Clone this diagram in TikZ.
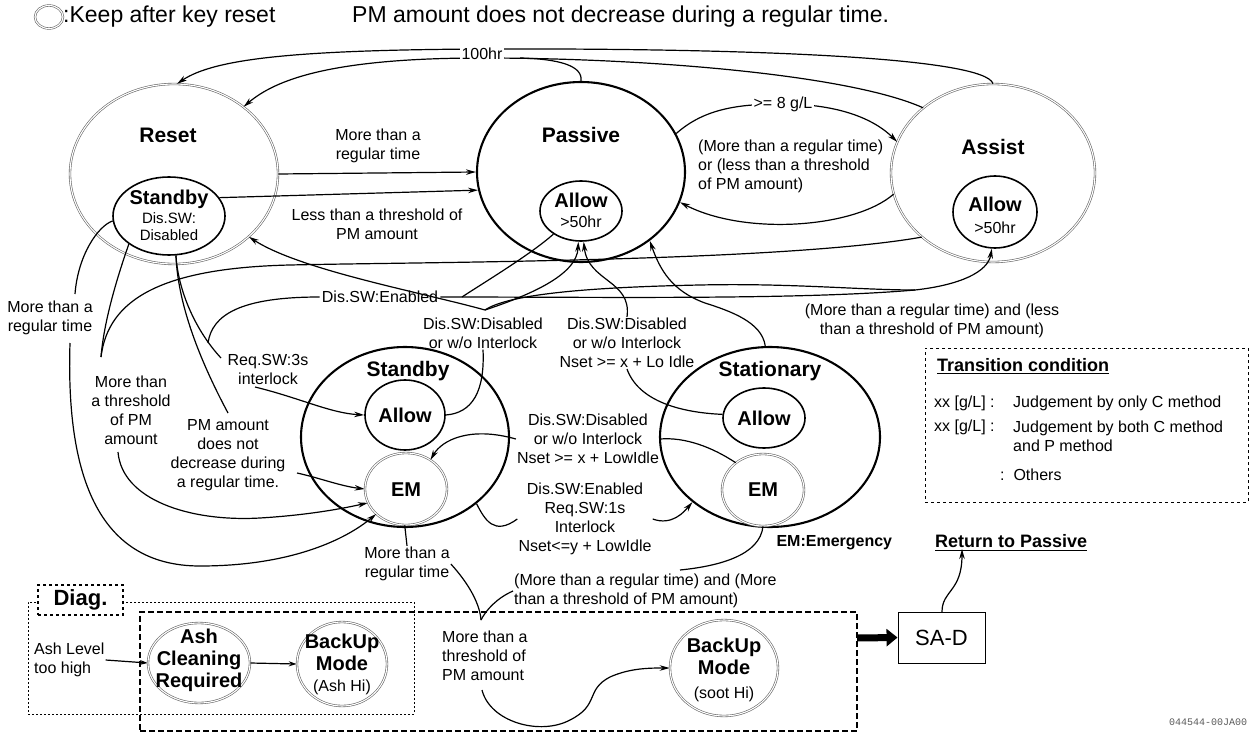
\documentclass[tikz,border=0pt]{standalone}
\usepackage{fontspec}
\setmainfont{Liberation Sans}
\newfontfamily\codefont{Liberation Mono}
\usetikzlibrary{arrows.meta,shapes.geometric,calc}

\begin{document}
\begin{tikzpicture}[x=1pt,y=-1pt,
  st/.style={ellipse, draw, line width=2.1pt, inner sep=0pt},
  sub/.style={ellipse, draw, line width=1.6pt, inner sep=0pt},
  dbl/.style={ellipse, draw=black!60, double=white, double distance=1.1pt, line width=0.6pt, inner sep=0pt},
  cn/.style={line width=1.2pt},
  arr/.style={cn, -{Stealth[length=10pt,width=5.5pt]}},
  lbl/.style={font=\fontsize{16}{19}\selectfont, align=center, inner sep=1pt},
  big/.style={font=\bfseries\fontsize{21}{24}\selectfont},
  mid/.style={font=\bfseries\fontsize{20}{22}\selectfont, align=center},
  sml/.style={font=\fontsize{16}{18}\selectfont},
  blank/.style={fill=white, inner sep=2pt}
]
\useasboundingbox (0,0) rectangle (1250,733);

% ---------- header ----------
\node[dbl, minimum width=28pt, minimum height=23pt] (keep) at (49,17) {};
\node[anchor=west, inner sep=0pt, font=\fontsize{23}{26}\selectfont] (keeptxt) at (63,17) {:Keep after key reset};
\node[anchor=west, inner sep=0pt, font=\fontsize{23}{26}\selectfont] (title) at (352,17) {PM amount does not decrease during a regular time.};

% ---------- states ----------
\node[dbl, minimum width=208pt, minimum height=180pt] (reset) at (174,174) {};
\node[big] at (168,135) {Reset};
\node[sub, minimum width=112pt, minimum height=78pt] (rstandby) at (169,216) {};
\node[font=\bfseries\fontsize{20}{22}\selectfont] at (169,199) {Standby};
\node[align=center, font=\fontsize{15}{17}\selectfont] at (169,227) {Dis.SW:\\Disabled};

\node[st, minimum width=208pt, minimum height=180pt] (passive) at (581,172) {};
\node[big] at (581,135) {Passive};
\node[sub, minimum width=82pt, minimum height=60pt] (pallow) at (581,211) {};
\node[mid] at (581,200) {Allow};
\node[sml] at (581,222) {>50hr};

\node[dbl, minimum width=204pt, minimum height=178pt] (assist) at (993,173) {};
\node[big] at (993,147) {Assist};
\node[sub, minimum width=84pt, minimum height=72pt] (aallow) at (995,212) {};
\node[mid] at (995,204) {Allow};
\node[sml] at (995,228) {>50hr};

\node[st, minimum width=208pt, minimum height=180pt] (standby) at (405,437) {};
\node[big] at (408,371) {Standby};
\node[sub, minimum width=80pt, minimum height=70pt] (sallow) at (405,415) {};
\node[mid] at (405,415) {Allow};
\node[dbl, minimum width=82pt, minimum height=72pt] (sem) at (406,489) {};
\node[mid] at (406,490) {EM};

\node[st, minimum width=220pt, minimum height=180pt] (station) at (770,437) {};
\node[big] at (770,371) {Stationary};
\node[sub, minimum width=82pt, minimum height=60pt] (tallow) at (764,418) {};
\node[mid] at (764,418) {Allow};
\node[dbl, minimum width=82pt, minimum height=72pt] (tem) at (763,490) {};
\node[mid] at (763,490) {EM};
\node[anchor=west, font=\bfseries\fontsize{16}{18}\selectfont] (emnote) at (773,543) {EM:Emergency};

% ---------- diagnosis area ----------
\node[draw, dash pattern=on 2pt off 2pt, line width=0.9pt, minimum width=386pt, minimum height=112pt, inner sep=0pt] (diagbox) at (221,658) {};
\node[draw, dash pattern=on 6pt off 3pt, line width=1.1pt, minimum width=717pt, minimum height=119pt, inner sep=0pt] (bigbox) at (498.5,671.5) {};
\node[draw, dashed, line width=1.1pt, fill=white, minimum width=85pt, minimum height=30pt, font=\bfseries\fontsize{22}{24}\selectfont] (diag) at (80.5,600) {Diag.};

\node[dbl, minimum width=102pt, minimum height=80pt] (acr) at (199,663) {};
\node[mid] at (199,660) {Ash\\Cleaning\\Required};
\node[dbl, minimum width=90pt, minimum height=84pt] (bum1) at (342,664) {};
\node[mid, inner sep=0pt] at (342,664) {BackUp\\Mode\\[-1pt]{\mdseries\fontsize{16}{18}\selectfont (Ash Hi)}};
\node[dbl, minimum width=108pt, minimum height=96pt] (bum2) at (724,668) {};
\node[mid, inner sep=0pt] at (724,670) {BackUp\\Mode\\[2pt]{\mdseries\fontsize{16}{18}\selectfont (soot Hi)}};

\node[draw, line width=0.9pt, minimum width=87pt, minimum height=51pt, font=\fontsize{22}{24}\selectfont] (sad) at (941.5,637.5) {SA-D};
\node[anchor=west, font=\bfseries\fontsize{18}{20}\selectfont, inner sep=0pt] (ret) at (935,541) {Return to Passive};
\draw[line width=1pt] ($(ret.south west)+(0,3)$) -- ($(ret.south east)+(0,3)$);

% ---------- legend ----------
\node[draw, dashed, line width=1pt, minimum width=323pt, minimum height=154pt, inner sep=0pt] (legend) at (1086.5,425) {};
\node[anchor=west, inner sep=0pt, font=\bfseries\fontsize{18}{20}\selectfont] (lgtitle) at (937,365) {Transition condition};
\draw[line width=1pt] ($(lgtitle.south west)+(0,2)$) -- ($(lgtitle.south east)+(0,2)$);
\node[anchor=west, lbl, align=left] (lg1) at (933,403) {xx [g/L] :};
\node[anchor=west, lbl, align=left] (lg1t) at (1012,403) {Judgement by only C method};
\node[anchor=west, lbl, align=left] (lg2) at (933,427) {xx [g/L] :};
\node[anchor=west, lbl, align=left] (lg2t) at (1012,436) {Judgement by both C method\\and P method};
\node[anchor=west, lbl, align=left] (lg3) at (999,475) {:\ \ Others};

\node[font=\codefont\fontsize{10}{12}\selectfont, text=black!65] (code) at (1208,722) {044544-00JA00};

% ---------- transition labels ----------
\node[lbl] (lrt1) at (378,146) {More than a\\regular time};
\node[lbl] (llt) at (377,224) {Less than a threshold of\\PM amount};
\node[lbl, anchor=west, align=left] (lor) at (697,166) {(More than a regular time)\\or (less than a threshold\\of PM amount)};
\node[lbl] (land1) at (932,321) {(More than a regular time) and (less\\than a threshold of PM amount)};
\node[lbl] (ldd1) at (483,333) {Dis.SW:Disabled\\or w/o Interlock};
\node[lbl] (ldd2) at (627,343) {Dis.SW:Disabled\\or w/o Interlock\\Nset >= x + Lo Idle};
\node[lbl] (lrt2) at (50,318) {More than a\\regular time};
\node[lbl] (lthr) at (131,410) {More than\\a threshold\\of PM\\amount};
\node[lbl] (lreq) at (268,369) {Req.SW:3s\\interlock};
\node[lbl] (lpm) at (228,455) {PM amount\\does not\\decrease during\\a regular time.};
\node[lbl] (ldd3) at (588,439) {Dis.SW:Disabled\\or w/o Interlock\\Nset >= x + LowIdle};
\node[lbl] (len2) at (585,519) {Dis.SW:Enabled\\Req.SW:1s\\Interlock\\Nset<=y + LowIdle};
\node[lbl] (lrt3) at (407,564) {More than a\\regular time};
\node[lbl, anchor=west, align=left] (land2) at (513,591) {(More than a regular time) and (More\\than a threshold of PM amount)};
\node[lbl, anchor=west, align=left] (lthr2) at (441,656) {More than a\\threshold of\\PM amount};
\node[lbl, anchor=west, align=left] (lash) at (33,660) {Ash Level\\too high};

% free ends of connectors
\coordinate (j1) at (101,357);
\coordinate (j2) at (75,294);
\coordinate (j2b) at (70,343);
\coordinate (j1b) at (118,452);
\coordinate (j3) at (221,358);
\coordinate (j3b) at (255,387);
\coordinate (j4) at (228,413);
\coordinate (j4b) at (297,473);
\coordinate (jd) at (485,310);
\coordinate (jen) at (462,297);
\coordinate (jaa) at (915,290);
\coordinate (jam) at (680,570);
\coordinate (jthr) at (482,690);
\coordinate (jcusp) at (481,620);
\coordinate (jbx) at (857,638);
\coordinate (jsad) at (942,612);

% ---------- connectors ----------
% 100hr returns to Reset
\draw[arr] (assist.90) .. controls (985,58) and (760,48) .. (482,49) .. controls (300,50) and (215,58) .. (reset.88);
\draw[arr] (assist.137) .. controls (850,75) and (650,58) .. (482,58) .. controls (330,58) and (275,80) .. (reset.44);
\draw[cn] (passive.90) .. controls (583,66) and (560,59) .. (520,58);
\node[lbl, blank] (t100) at (482,54) {100hr};

% Reset / Standby to Passive
\draw[arr] (reset.0) -- (passive.180);
\draw[arr] (rstandby.20) -- (passive.190);

% Passive <-> Assist
\draw[arr] (passive.22) .. controls (705,108) and (740,104) .. (783,104) .. controls (830,104) and (870,115) .. (assist.162);
\node[lbl, blank] (lg8) at (783,104) {>= 8 g/L};
\draw[arr] (assist.-168) .. controls (855,228) and (745,236) .. (passive.-17);

% long line from Assist to the threshold label
\draw[cn] (assist.-138) .. controls (780,262) and (420,262) .. (290,265) .. controls (160,268) and (108,300) .. (j1);
\draw[cn] (rstandby.215) .. controls (118,275) and (104,320) .. (j1);
\draw[arr] (j1b) .. controls (122,500) and (190,522) .. (260,518) .. controls (310,515) and (345,508) .. (sem.-160);

% Reset Standby to EM after a regular time
\draw[cn] (rstandby.185) .. controls (98,226) and (78,255) .. (j2);
\draw[arr] (j2b) .. controls (66,470) and (95,566) .. (200,566) .. controls (290,566) and (345,540) .. (sem.-140);

% Reset Standby to Req.SW and PM amount labels
\draw[cn] (rstandby.-80) .. controls (178,290) and (195,330) .. (j3);
\draw[cn] (rstandby.-80) .. controls (178,310) and (205,370) .. (j4);
\draw[arr] (j4b) .. controls (320,478) and (340,486) .. (sem.180);
\draw[arr] (j3b) .. controls (300,398) and (330,413) .. (sallow.180);

% Dis.SW:Enabled
\node[lbl, blank] (len) at (380,297) {Dis.SW:Enabled};
\draw[cn] (len.west) .. controls (240,297) and (212,315) .. (208,343);
\draw[arr] (len.east) .. controls (600,297) and (800,300) .. (jaa) .. controls (960,285) and (988,272) .. (aallow.-95);
\draw[cn] (pallow.-140) .. controls (530,255) and (480,285) .. (jen);

% Dis.SW:Disabled from Standby Allow
\draw[cn] (ldd1.south) .. controls (485,392) and (472,413) .. (sallow.0);
\draw[cn] (jd) .. controls (510,293) and (600,287) .. (700,285) .. controls (790,283) and (860,290) .. (jaa);
\draw[arr] (jd) .. controls (530,295) and (577,275) .. (pallow.-95);
\draw[arr] (jd) .. controls (420,292) and (300,270) .. (reset.-40);

% Dis.SW:Disabled from Stationary Allow
\draw[arr] (ldd2.north) .. controls (632,280) and (588,282) .. (pallow.-85);
\draw[cn] (ldd2.south) .. controls (640,405) and (690,413) .. (tallow.175);

% Stationary to Passive
\draw[arr] (station.93) .. controls (762,322) and (730,311) .. (705,303) .. controls (672,291) and (660,270) .. (passive.-45);

% Stationary EM to Standby EM
\draw[arr] (ldd3.west) .. controls (470,426) and (442,440) .. (sem.50);
\draw[cn] (tem.135) .. controls (712,447) and (685,437) .. (ldd3.east);

% Standby to Stationary
\draw[cn] (standby.-43) .. controls (485,520) and (494,536) .. (len2.west);
\draw[arr] (len2.east) .. controls (672,526) and (684,512) .. (station.-140);

% EM exits into the diagnosis area
\draw[cn] (sem.-92) -- (lrt3.north);
\draw[cn] (lrt3.east) .. controls (470,585) and (480,605) .. (jcusp);
\draw[cn] (tem.-90) .. controls (760,555) and (720,566) .. (jam);
\draw[cn] (land2.west) .. controls (497,598) and (486,610) .. (jcusp);
\draw[arr] (jthr) .. controls (490,722) and (540,736) .. (570,720) .. controls (600,705) and (585,690) .. (610,677) .. controls (630,668) and (650,668) .. (bum2.west);

% diagnosis flow
\draw[cn, -{Stealth[length=8pt,width=5pt]}] (lash.east) -- (acr.west);
\draw[cn, -{Stealth[length=8pt,width=5pt]}] (acr.east) -- (bum1.west);

% to SA-D and back to Passive
\draw[line width=7pt, -{Triangle[length=11pt,width=17pt]}] (jbx) -- (sad.west);
\draw[arr] (jsad) .. controls (942,590) and (962,592) .. (962,549);
\end{tikzpicture}
\end{document}
